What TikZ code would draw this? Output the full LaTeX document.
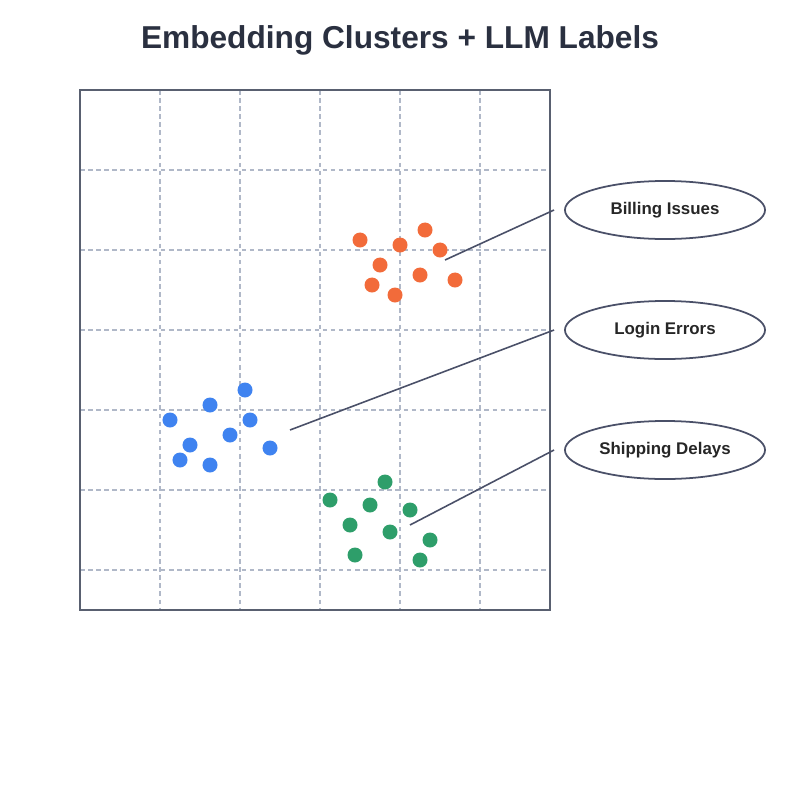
\documentclass[tikz,border=0pt]{standalone}
\usepackage{fontspec}
\setmainfont{Liberation Sans}
\usetikzlibrary{shapes.geometric}
\definecolor{frameC}{HTML}{596070}
\definecolor{gridC}{HTML}{B0B8C8}
\definecolor{lineC}{HTML}{4A5068}
\definecolor{titleC}{HTML}{2A3040}
\definecolor{orangeC}{HTML}{F26B3A}
\definecolor{blueC}{HTML}{3F83F0}
\definecolor{greenC}{HTML}{2E9E6A}
\tikzset{
  dot/.style={circle, fill=#1, inner sep=0pt, minimum size=0.15cm},
  tag/.style={ellipse, draw=lineC, line width=0.5pt, fill=white, inner sep=0pt, minimum width=2cm, minimum height=0.58cm, font=\fontsize{4.8pt}{6pt}\selectfont\bfseries, text=black!85},
  link/.style={draw=lineC, line width=0.45pt}
}
\begin{document}
\begin{tikzpicture}[x=0.01cm, y=-0.01cm]
  \useasboundingbox (0,0) rectangle (800,800);
  % Header
  \node (title) at (400,40) {\fontsize{9pt}{10pt}\selectfont\bfseries\color{titleC}Embedding Clusters + LLM Labels};
  % Grid
  \foreach \x in {160,240,320,400,480}
    \draw[gridC, line width=0.45pt, dash pattern=on 1.3pt off 1pt] (\x,90) -- (\x,610);
  \foreach \y in {170,250,330,410,490,570}
    \draw[gridC, line width=0.45pt, dash pattern=on 1.3pt off 1pt] (80,\y) -- (550,\y);
  \draw[frameC, line width=0.75pt] (80,90) rectangle (550,610);
  % Clusters
  \foreach \x/\y in {360/240,400/245,425/230,440/250,380/265,420/275,455/280,372/285,395/295}
    \node[dot=orangeC] at (\x,\y) {};
  \foreach \x/\y in {245/390,210/405,170/420,250/420,230/435,190/445,270/448,180/460,210/465}
    \node[dot=blueC] at (\x,\y) {};
  \foreach \x/\y in {385/482,330/500,370/505,410/510,350/525,390/532,430/540,355/555,420/560}
    \node[dot=greenC] at (\x,\y) {};
  % Labels
  \coordinate (billpt) at (445,260);
  \coordinate (loginpt) at (290,430);
  \coordinate (shippt) at (410,525);
  \node (bill) [tag] at (665,210) {Billing Issues};
  \node (login) [tag] at (665,330) {Login Errors};
  \node (ship) [tag] at (665,450) {Shipping Delays};
  \draw[link] ([xshift=-0.1cm]bill.west) -- (billpt);
  \draw[link] ([xshift=-0.1cm]login.west) -- (loginpt);
  \draw[link] ([xshift=-0.1cm]ship.west) -- (shippt);
\end{tikzpicture}
\end{document}
